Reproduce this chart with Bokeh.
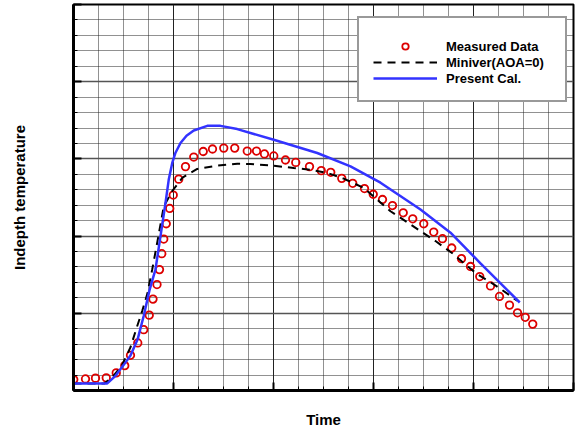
from bokeh.plotting import figure
from bokeh.models import FixedTicker, Legend, LegendItem, Range1d
from bokeh.embed import file_html
from bokeh.resources import INLINE

# Measured data (open red circles)
time_measured = [0.01, 0.48, 0.88, 1.31, 1.71, 2.05, 2.28, 2.57, 2.81, 3.03,
                 3.18, 3.34, 3.44, 3.53, 3.61, 3.71, 3.85, 3.99, 4.21, 4.48,
                 4.81, 5.19, 5.56, 6.01, 6.45, 6.95, 7.32, 7.64, 8.01, 8.48,
                 8.89, 9.44, 9.91, 10.29, 10.73, 11.17, 11.64, 11.99, 12.36, 12.76,
                 13.19, 13.57, 14.01, 14.41, 14.76, 15.13, 15.52, 15.88, 16.25, 16.68,
                 17.04, 17.44, 17.76, 18.07, 18.37]
temp_measured = [0.71, 0.75, 0.80, 0.82, 1.14, 1.61, 2.28, 3.08, 3.94, 4.88,
                 5.92, 6.86, 7.83, 8.86, 9.81, 10.80, 11.79, 12.66, 13.69, 14.50,
                 15.12, 15.48, 15.64, 15.70, 15.70, 15.51, 15.51, 15.32, 15.19, 14.93,
                 14.77, 14.50, 14.24, 14.13, 13.74, 13.42, 13.08, 12.71, 12.37, 11.98,
                 11.51, 11.12, 10.80, 10.26, 9.83, 9.23, 8.54, 8.03, 7.38, 6.77,
                 6.09, 5.53, 5.03, 4.74, 4.30]

# Miniver (AOA=0) (black dashed)
time_miniver = [0.0, 1.24, 1.56, 1.92, 2.28, 2.52, 2.75, 2.95, 3.15, 3.35,
                3.61, 3.95, 4.36, 4.95, 5.75, 6.55, 7.08, 8.01, 8.81, 9.48,
                10.15, 10.81, 11.61, 12.12, 12.68, 13.28, 13.88, 14.48, 15.21, 15.75,
                16.15, 16.81, 17.48, 17.75]
temp_miniver = [0.46, 0.46, 0.88, 1.57, 2.80, 4.03, 5.16, 6.24, 7.85, 9.59,
                11.92, 12.92, 13.79, 14.35, 14.56, 14.69, 14.67, 14.56, 14.41, 14.30,
                14.09, 13.72, 13.12, 12.40, 11.61, 10.97, 10.32, 9.68, 8.82, 8.06,
                7.53, 6.88, 6.13, 5.81]

# Present Cal. (blue solid)
time_present = [0.0, 1.35, 1.68, 2.01, 2.28, 2.57, 2.81, 3.04, 3.28, 3.48,
                3.68, 3.81, 3.95, 4.08, 4.28, 4.52, 4.81, 5.35, 5.88, 6.55,
                8.01, 9.75, 11.08, 12.28, 13.88, 15.08, 15.88, 16.28, 17.85]
temp_present = [0.46, 0.46, 0.95, 1.66, 2.26, 3.34, 4.84, 6.50, 7.85, 10.0,
                12.15, 13.66, 14.74, 15.40, 16.03, 16.50, 16.84, 17.14, 17.14, 16.93,
                16.24, 15.38, 14.52, 13.46, 11.72, 10.22, 8.90, 8.23, 5.70]

x_major_ticks = [0, 4, 8, 12, 16, 20]
x_minor_ticks = list(range(0, 21))
y_major_ticks = [0, 5, 10, 15, 20, 25]
y_minor_ticks = list(range(0, 26))

FONT = "Liberation Sans"

p = figure(width=577, height=430, output_backend="svg", toolbar_location=None,
           x_range=Range1d(0, 20), y_range=Range1d(0, 25),
           min_border_left=73, min_border_right=4, min_border_top=4,
           min_border_bottom=38)
p.background_fill_color = "white"
p.border_fill_color = "white"
p.outline_line_color = "black"
p.outline_line_width = 2

p.xaxis.ticker = FixedTicker(ticks=x_major_ticks, minor_ticks=x_minor_ticks)
p.yaxis.ticker = FixedTicker(ticks=y_major_ticks, minor_ticks=y_minor_ticks)

for ax in (p.xaxis[0], p.yaxis[0]):
    ax.major_label_text_font_size = "0px"
    ax.major_label_text_alpha = 0
    ax.major_label_standoff = 0
    ax.major_tick_in = 8
    ax.major_tick_out = 0
    ax.minor_tick_in = 4
    ax.minor_tick_out = 0
    ax.major_tick_line_width = 2
    ax.minor_tick_line_color = "black"
    ax.axis_line_width = 3
    ax.axis_line_color = "black"
    ax.axis_label_text_font = FONT
    ax.axis_label_text_font_style = "bold"
    ax.axis_label_text_font_size = "15px"
    ax.axis_label_text_color = "black"

p.xaxis.axis_label = "Time"
p.xaxis.axis_label_standoff = 20
p.yaxis.axis_label = "Indepth temperature"
p.yaxis.axis_label_standoff = 46

p.xgrid.ticker = FixedTicker(ticks=x_major_ticks, minor_ticks=x_minor_ticks)
p.ygrid.ticker = FixedTicker(ticks=y_major_ticks, minor_ticks=y_minor_ticks)
p.xgrid.grid_line_color = "#222222"
p.xgrid.grid_line_width = 1
p.ygrid.grid_line_color = "#555555"
p.ygrid.grid_line_width = 1.5
for g in (p.xgrid[0], p.ygrid[0]):
    g.minor_grid_line_color = "#222222"
    g.minor_grid_line_dash = "1 1"
    g.minor_grid_line_width = 1

r_meas = p.scatter(time_measured, temp_measured, marker="circle", size=7.5,
                   fill_color=None, line_color="#dd0000", line_width=1.8)
r_mini = p.line(time_miniver, temp_miniver, line_color="black", line_width=2,
                line_dash="8 6")
r_pres = p.line(time_present, temp_present, line_color="#3333ff", line_width=2.5)

legend = Legend(items=[
    LegendItem(label="Measured Data", renderers=[r_meas]),
    LegendItem(label="Miniver(AOA=0)", renderers=[r_mini]),
    LegendItem(label="Present Cal.", renderers=[r_pres]),
], location=(284, 288))
legend.title = " "
legend.title_text_font_size = "6px"
legend.title_standoff = 0
legend.padding = 14
legend.spacing = 0
legend.glyph_width = 64
legend.glyph_height = 16
legend.label_height = 16
legend.label_width = 105
legend.label_standoff = 9
legend.label_text_font = FONT
legend.label_text_font_style = "bold"
legend.label_text_font_size = "13px"
legend.label_text_color = "black"
legend.border_line_color = "#333333"
legend.border_line_width = 2
legend.background_fill_color = "white"
legend.background_fill_alpha = 1
p.add_layout(legend, "center")

open("out.html", "w").write(file_html(p, INLINE))
